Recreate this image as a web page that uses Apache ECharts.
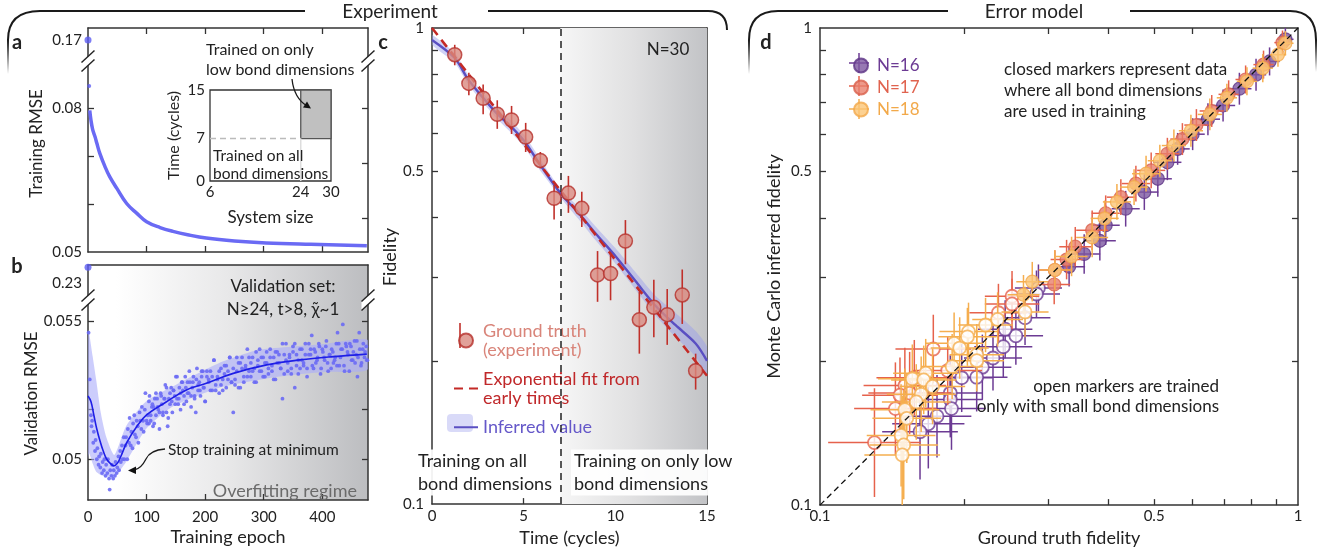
<!DOCTYPE html>
<html><head><meta charset="utf-8">
<script src="https://cdn.jsdelivr.net/npm/echarts@6/dist/echarts.min.js"></script>
<style>html,body{margin:0;padding:0;background:#fff}#c{width:1338px;height:552px}</style>
</head><body><div id="c"></div>
<script>
// ================= DATA =================
// Panel a: training RMSE
const aTopPoint = [[0, 0.17]];
const aEarlyPoint = [[2, 0.0846]];
const trainEpoch = [3, 5, 8, 12, 15, 20, 29, 37, 49, 66, 83, 100, 123, 145, 170, 202, 250, 304, 380, 476];
const trainRmse  = [0.0795, 0.0775, 0.0755, 0.0740, 0.0727, 0.0706, 0.0678, 0.0657, 0.0633, 0.0601, 0.0581, 0.0563, 0.0551, 0.0543, 0.0536, 0.0529, 0.0523, 0.0519, 0.0516, 0.0513];
const aTopLabels = [0.17];
const aLabels = [0.05, 0.08];
const aLeftTicks = [0.06, 0.07, 0.08];
const aRightTicks = [0.057, 0.0685, 0.08];
const epochTicks = [100, 200, 300, 400];
const epochLabels = [0, 100, 200, 300, 400];
// inset
const insetSize = [6, 24, 30];
const insetTime = [0, 7, 15];

// Panel b: validation RMSE
const bTopPoint = [[0, 0.24]];
const bTopLabels = [0.23];
const bLabels = [0.05, 0.055];
const bTicks = [0.05, 0.0518, 0.055];
const valLineEpoch = [0, 5, 10, 15, 20, 26, 32, 38, 44, 50, 56, 66, 83, 100, 134, 168, 202, 248, 305, 362, 419, 476];
const valLineRmse  = [0.0523, 0.0521, 0.0516, 0.0511, 0.0507, 0.0503, 0.0500, 0.04985, 0.04976, 0.04985, 0.0501, 0.0506, 0.05118, 0.05161, 0.05209, 0.05252, 0.05276, 0.05312, 0.05343, 0.05361, 0.05373, 0.05382];
const bandEpoch = [0, 2, 8, 14, 22, 31, 45, 65, 99, 144, 224, 290, 347, 410, 477];
const bandLo = [0.0500, 0.05022, 0.04985, 0.04955, 0.04943, 0.04937, 0.04937, 0.0499, 0.0511, 0.05191, 0.0526, 0.05288, 0.05306, 0.05318, 0.05325];
const bandHi = [0.0547, 0.05458, 0.05373, 0.05288, 0.05167, 0.05082, 0.05016, 0.0512, 0.0521, 0.05264, 0.0535, 0.05397, 0.05409, 0.05421, 0.05434];
const valDots = [[1,0.0546],[3,0.0529],[5,0.0516],[6,0.0512],[7,0.0514],[9,0.0506],[10,0.0510],[12,0.0503],[13,0.0507],[15,0.0500],[16,0.0504],[18,0.0498],[19,0.0501],[21,0.0497],[22,0.0502],[24,0.0495],[25,0.0499],[27,0.0496],[28,0.0500],[30,0.0494],[31,0.0498],[33,0.0495],[34,0.0500],[36,0.0493],[37,0.0489],[38,0.0496],[40,0.0494],[41,0.0498],[43,0.0493],[44,0.0496],[46,0.0494],[47,0.0499],[49,0.0495],[50,0.0497],[52,0.0501],[53,0.0496],[55,0.0503],[56,0.0499],
[58,0.0505],[59,0.0500],[61,0.0508],[62,0.0500],[64,0.0505],[65,0.0508],[67,0.0500],[68,0.0511],[70,0.0506],[71,0.0515],[73,0.0505],[74,0.0510],[76,0.0504],[77,0.0513],[79,0.0516],[80,0.0509],[82,0.0508],[83,0.0514],[85,0.0512],[86,0.0506],[88,0.0517],[89,0.0514],[91,0.0511],[92,0.0519],[94,0.0514],[95,0.0510],[97,0.0518],[98,0.0524],[100,0.0514],[102,0.0516],[104,0.0513],[105,0.0523],[107,0.0514],[109,0.0519],[111,0.0512],[112,0.0519],[114,0.0522],[116,0.0516],[118,0.0522],[120,0.0518],[122,0.0511],[124,0.0524],[126,0.0520],[128,0.0517],[130,0.0522],[132,0.0527],[134,0.0517],[136,0.0512],[138,0.0522],[140,0.0520],[142,0.0526],[144,0.0517],[146,0.0525],[148,0.0523],[150,0.0530],[152,0.0522],[154,0.0520],[156,0.0526],[158,0.0518],[160,0.0528],[162,0.0525],[164,0.0523],[166,0.0530],[168,0.0521],[170,0.0528],[172,0.0524],[174,0.0528],[176,0.0519],[178,0.0526],[180,0.0530],[182,0.0523],[184,0.0517],[186,0.0533],[188,0.0525],[190,0.0528],[192,0.0523],[194,0.0530],[196,0.0532],[198,0.0526],[200,0.0521],[203,0.0530],[206,0.0528],[209,0.0532],[212,0.0525],[215,0.0536],[218,0.0527],[221,0.0530],[224,0.0524],[227,0.0533],[230,0.0529],[233,0.0534],[236,0.0526],[239,0.0532],[242,0.0537],[245,0.0528],[248,0.0517],[251,0.0529],[254,0.0537],[257,0.0526],[260,0.0535],[263,0.0533],[266,0.0528],[269,0.0534],[272,0.0540],[275,0.0532],[278,0.0530],[281,0.0537],[284,0.0533],[287,0.0528],[290,0.0536],[293,0.0540],[296,0.0532],[299,0.0537],[302,0.0530],[305,0.0535],[308,0.0533],[311,0.0540],[314,0.0532],[317,0.0537],[320,0.0529],[323,0.0539],[326,0.0535],[329,0.0533],[332,0.0522],[335,0.0538],[338,0.0542],[341,0.0532],[344,0.0537],[347,0.0533],[350,0.0541],[353,0.0526],[356,0.0538],[359,0.0531],[362,0.0540],[365,0.0536],[368,0.0534],[371,0.0542],[374,0.0533],[377,0.0538],[380,0.0540],[382,0.0545],[385,0.0533],[388,0.0539],[391,0.0536],[394,0.0542],[397,0.0531],[400,0.0540],[403,0.0537],[406,0.0541],[409,0.0535],[412,0.0538],[415,0.0533],[418,0.0539],[421,0.0536],[424,0.0542],[426,0.0546],[429,0.0534],[432,0.0540],[435,0.0549],[438,0.0532],[441,0.0541],[444,0.0538],[447,0.0542],[450,0.0536],[453,0.0539],[456,0.0535],[459,0.0543],[460,0.0530],[463,0.0546],[466,0.0534],[469,0.0540],[472,0.0537],[475,0.0541],[477,0.0536],
[101,0.0513],[104,0.0521],[107,0.0516],[110,0.0520],[113,0.0513],[116,0.0524],[119,0.0519],[122,0.0517],[125,0.0523],[128,0.0516],[131,0.0522],[134,0.0526],[137,0.0515],[140,0.0524],[143,0.0521],[146,0.0525],[149,0.0520],[152,0.0530],[155,0.0522],[158,0.0524],[161,0.0528],[164,0.0520],[167,0.0526],[170,0.0524],[173,0.0532],[176,0.0523],[179,0.0528],[182,0.0522],[185,0.0529],[188,0.0527],[191,0.0525],[194,0.0532],[197,0.0526],[200,0.0521],[203,0.0532],[206,0.0529],[209,0.0525],[212,0.0530],[215,0.0536],[218,0.0525],[221,0.0529],[224,0.0532],[227,0.0527],[230,0.0525],[233,0.0531],[236,0.0534],[239,0.0529],[242,0.0537],[245,0.0528],[248,0.0533],[251,0.0527],[254,0.0532],[257,0.0535],[260,0.0526],[263,0.0537],[266,0.0530],[269,0.0533],[272,0.0530],[275,0.0537],[278,0.0535],[281,0.0532],[284,0.0528],[287,0.0539],[290,0.0534],[293,0.0532],[296,0.0537],[299,0.0530],[302,0.0535],[305,0.0539],[308,0.0531],[311,0.0537],[314,0.0534],[317,0.0529],[320,0.0539],[323,0.0535],[326,0.0538],[329,0.0533],[332,0.0542],[335,0.0531],[338,0.0536],[341,0.0535],[344,0.0538],[347,0.0531],[350,0.0539],[353,0.0542],[356,0.0534],[359,0.0536],[362,0.0533],[365,0.0540],[368,0.0535],[371,0.0538],[374,0.0530],[377,0.0542],[380,0.0538],[383,0.0534],[386,0.0540],[389,0.0535],[392,0.0537],[395,0.0541],[398,0.0533],[401,0.0539],[404,0.0536],[407,0.0543],[410,0.0532],[413,0.0538],[416,0.0540],[419,0.0535],[422,0.0537],[425,0.0534],[428,0.0542],[431,0.0537],[434,0.0540],[437,0.0534],[440,0.0542],[443,0.0539],[446,0.0532],[449,0.0541],[452,0.0536],[455,0.0543],[458,0.0538],[461,0.0537],[464,0.0540],[467,0.0535],[470,0.0542],[473,0.0539],[476,0.0536]];

// Panel c: fidelity vs time (N=30)
const cTime = [1.24, 2.01, 2.79, 3.56, 4.34, 5.11, 5.91, 6.66, 7.44, 8.17, 9.03, 9.74, 10.55, 11.31, 12.1, 12.83, 13.65, 14.38];
const cFid  = [0.879, 0.765, 0.712, 0.659, 0.641, 0.590, 0.527, 0.439, 0.450, 0.418, 0.303, 0.305, 0.357, 0.244, 0.259, 0.250, 0.275, 0.1905];
const cLo   = [0.835, 0.722, 0.659, 0.614, 0.599, 0.549, 0.507, 0.396, 0.409, 0.382, 0.266, 0.268, 0.319, 0.207, 0.224, 0.216, 0.239, 0.174];
const cHi   = [0.922, 0.805, 0.761, 0.705, 0.686, 0.632, 0.549, 0.468, 0.489, 0.453, 0.340, 0.337, 0.395, 0.279, 0.296, 0.283, 0.311, 0.207];
const fitTime = [0, 15];
const fitFid  = [1.0, 0.186];
const infTime = [0, 1.24, 1.97, 2.7, 3.52, 4.34, 5.07, 5.8, 6.35, 7.08, 7.99, 8.9, 10, 11.1, 12.19, 13.29, 14.38, 15];
const infFid  = [0.944, 0.865, 0.780, 0.720, 0.662, 0.619, 0.576, 0.523, 0.487, 0.446, 0.409, 0.371, 0.332, 0.294, 0.261, 0.2375, 0.2175, 0.200];
const infLo   = [0.922, 0.845, 0.762, 0.703, 0.646, 0.601, 0.560, 0.508, 0.476, 0.437, 0.397, 0.359, 0.320, 0.282, 0.249, 0.224, 0.204, 0.187];
const infHi   = [0.967, 0.886, 0.799, 0.737, 0.678, 0.637, 0.593, 0.538, 0.499, 0.455, 0.421, 0.384, 0.345, 0.307, 0.274, 0.252, 0.231, 0.214];
const cSplit = 7;
const cTimeMax = 15;
const cTimeLabels = [0, 5, 10, 15];
const cTimeTicks = [5, 10];
const fidLabels = [0.1, 0.5, 1];
const fidTicks = [0.2, 0.3, 0.4, 0.5, 0.6, 0.7, 0.8, 0.9];

// Panel d: [ground truth, inferred, x error factor, y error factor]
const closed16 = [[0.941,0.947,1.04,1.06],[0.872,0.851,1.05,1.07],[0.817,0.798,1.05,1.08],[0.754,0.746,1.06,1.08],[0.697,0.688,1.06,1.08],[0.648,0.644,1.06,1.08],[0.602,0.599,1.06,1.08],[0.560,0.558,1.06,1.08],[0.533,0.523,1.07,1.09],[0.509,0.483,1.07,1.09],[0.477,0.453,1.07,1.09],[0.436,0.418,1.07,1.09],[0.396,0.386,1.07,1.1],[0.385,0.358,1.08,1.1],[0.357,0.336,1.08,1.1],[0.332,0.316,1.08,1.1]];
const closed17 = [[0.928,0.932,1.04,1.06],[0.847,0.838,1.05,1.07],[0.777,0.780,1.05,1.07],[0.716,0.726,1.05,1.07],[0.660,0.670,1.06,1.08],[0.613,0.626,1.06,1.08],[0.573,0.585,1.06,1.08],[0.533,0.545,1.06,1.08],[0.493,0.503,1.07,1.09],[0.458,0.472,1.07,1.09],[0.426,0.442,1.07,1.09],[0.396,0.409,1.07,1.09],[0.371,0.377,1.08,1.1],[0.342,0.348,1.08,1.1],[0.328,0.327,1.08,1.1],[0.310,0.311,1.08,1.1],[0.309,0.290,1.08,1.1]];
const closed18 = [[0.941,0.929,1.04,1.06],[0.908,0.879,1.04,1.06],[0.844,0.824,1.05,1.07],[0.782,0.773,1.05,1.07],[0.710,0.714,1.05,1.07],[0.654,0.659,1.06,1.08],[0.597,0.609,1.06,1.08],[0.550,0.567,1.06,1.08],[0.514,0.527,1.06,1.08],[0.481,0.495,1.07,1.09],[0.454,0.464,1.07,1.09],[0.418,0.432,1.07,1.09],[0.394,0.399,1.07,1.09],[0.371,0.364,1.08,1.1],[0.336,0.332,1.08,1.1],[0.310,0.311,1.08,1.1],[0.278,0.294,1.08,1.1],[0.2665,0.276,1.08,1.1]];
const open16 = [[0.2864,0.2852,1.12,1.12],[0.2837,0.277,1.12,1.12],[0.2685,0.247,1.13,1.14],[0.2569,0.2264,1.14,1.15],[0.2440,0.2337,1.14,1.15],[0.2418,0.2148,1.15,1.16],[0.2301,0.2034,1.15,1.17],[0.2186,0.1946,1.15,1.17],[0.2127,0.1854,1.16,1.18],[0.1979,0.1849,1.16,1.18],[0.1873,0.1717,1.17,1.2],[0.1873,0.1664,1.17,1.2],[0.1884,0.1593,1.18,1.22],[0.1757,0.1536,1.18,1.22],[0.1685,0.148,1.19,1.24],[0.1619,0.1425,1.2,1.26]];
const open17 = [[0.2522,0.274,1.14,1.13],[0.2522,0.264,1.14,1.13],[0.2362,0.253,1.15,1.15],[0.185,0.1914,1.18,1.18],[0.1726,0.2124,1.2,1.18],[0.1575,0.1849,1.2,1.2],[0.1505,0.178,1.22,1.2],[0.154,0.1717,1.22,1.22],[0.147,0.170,1.2,1.2],[0.1438,0.1593,1.22,1.25],[0.130,0.1352,1.25,1.3]];
const open18 = [[0.2685,0.254,1.12,1.13],[0.2353,0.245,1.13,1.14],[0.222,0.2385,1.14,1.14],[0.2045,0.231,1.15,1.15],[0.2034,0.2253,1.15,1.15],[0.1908,0.2183,1.15,1.16],[0.196,0.2134,1.15,1.16],[0.2128,0.2066,1.14,1.16],[0.2128,0.2008,1.14,1.16],[0.189,0.1952,1.16,1.17],[0.1664,0.189,1.17,1.18],[0.156,0.184,1.18,1.18],[0.1648,0.183,1.17,1.18],[0.172,0.1773,1.17,1.2],[0.1628,0.1707,1.18,1.2],[0.159,0.1645,1.18,1.2],[0.1505,0.1585,1.18,1.22],[0.1519,0.152,1.18,1.24],[0.1478,0.140,1.18,1.28],[0.1497,0.1337,1.18,1.3],[0.1486,0.1274,1.2,1.33]];
const diag = [[0.1, 0.1], [1, 1]];

// ================= HELPERS =================
const FONT = 'Lato, "DejaVu Sans", sans-serif';
const AX = '#333';
const axLine = {show: true, onZero: false, lineStyle: {color: AX, width: 1.5}};
const noTick = {show: false};
const noLabel = {show: false};
function ticks(vals) { return {show: true, inside: true, length: 6, customValues: vals, lineStyle: {color: AX, width: 1.3}}; }
function labels(vals, margin) { return {show: true, customValues: vals, fontSize: 15, color: '#222', fontFamily: FONT, margin: margin}; }
function nm(size, shift) { return {fontSize: size || 17, color: '#222', fontFamily: FONT, padding: [0, 0, 0, shift || 0]}; }
function ax(o) { return Object.assign({type: 'value', splitLine: {show: false}, axisLine: axLine, axisTick: noTick, axisLabel: noLabel}, o); }

function T(x, y, text, o) {
  o = o || {};
  return {type: 'text', x: x, y: y, z: o.z || 100, rotation: o.rot || 0,
    style: {text: text, fontFamily: FONT, fontSize: o.size || 17, fontWeight: o.weight || 'normal',
      fill: o.color || '#222', align: o.align || 'left', textAlign: o.align || 'left',
      verticalAlign: 'middle', textVerticalAlign: 'middle', lineHeight: o.lh,
      backgroundColor: o.bg, padding: o.pad}};
}
function L(x1, y1, x2, y2, stroke, w, z) {
  return {type: 'line', z: z || 50, shape: {x1: x1, y1: y1, x2: x2, y2: y2}, style: {stroke: stroke || '#1a1a1a', lineWidth: w || 2}};
}
function Q(x1, y1, cx, cy, x2, y2, w) {
  return {type: 'bezierCurve', z: 50, shape: {x1: x1, y1: y1, cpx1: cx, cpy1: cy, x2: x2, y2: y2}, style: {stroke: '#1a1a1a', lineWidth: w || 2, fill: null}};
}
function fadeLine(x, y1, y2) {
  const g = new echarts.graphic.LinearGradient(x, y1, x, y2, [
    {offset: 0, color: '#1a1a1a'}, {offset: 1, color: 'rgba(26,26,26,0)'}], true);
  return L(x, y1, x, y2, g, 2);
}
function brk(cx, cy) {
  return {type: 'group', z: 60, children: [
    {type: 'polygon', z: 60, shape: {points: [[cx - 6.5, cy + 10.5], [cx + 6.5, cy - 1.5], [cx + 6.5, cy - 10.5], [cx - 6.5, cy + 1.5]]}, style: {fill: '#fff'}},
    {type: 'line', z: 61, shape: {x1: cx - 6.5, y1: cy + 10.5, x2: cx + 6.5, y2: cy - 1.5}, style: {stroke: '#222', lineWidth: 1.4}},
    {type: 'line', z: 61, shape: {x1: cx - 6.5, y1: cy + 1.5, x2: cx + 6.5, y2: cy - 10.5}, style: {stroke: '#222', lineWidth: 1.4}}
  ]};
}
function bandRender(xs, lo, hi, fill) {
  return function (params, api) {
    if (params.dataIndex !== 0) return;
    const pts = [];
    for (let i = 0; i < xs.length; i++) pts.push(api.coord([xs[i], hi[i]]));
    for (let i = xs.length - 1; i >= 0; i--) pts.push(api.coord([xs[i], lo[i]]));
    return {type: 'polygon', shape: {points: pts, smooth: 0.2}, style: {fill: fill}};
  };
}
function crossRender(color) {
  return function (params, api) {
    const x = api.value(0), y = api.value(1), ex = api.value(2), ey = api.value(3);
    const a = api.coord([x / ex, y]), b = api.coord([x * ex, y]);
    const c = api.coord([x, y / ey]), d = api.coord([x, y * ey]);
    return {type: 'group', children: [
      {type: 'line', shape: {x1: a[0], y1: a[1], x2: b[0], y2: b[1]}, style: {stroke: color, lineWidth: 1.5}},
      {type: 'line', shape: {x1: c[0], y1: c[1], x2: d[0], y2: d[1]}, style: {stroke: color, lineWidth: 1.5}}
    ]};
  };
}
function vbarRender(color) {
  return function (params, api) {
    const t = api.value(0), lo = api.value(2), hi = api.value(3);
    const a = api.coord([t, lo]), b = api.coord([t, hi]);
    return {type: 'line', shape: {x1: a[0], y1: a[1], x2: b[0], y2: b[1]}, style: {stroke: color, lineWidth: 1.6}};
  };
}
const pairs = (xs, ys) => xs.map((x, i) => [x, ys[i]]);
const xy = arr => arr.map(p => [p[0], p[1]]);

const gradB = new echarts.graphic.LinearGradient(0, 0, 1, 0, [
  {offset: 0, color: '#ffffff'}, {offset: 0.1, color: '#ffffff'}, {offset: 0.5, color: '#e8e8e9'}, {offset: 1, color: '#bcbdc0'}]);
const gradC = new echarts.graphic.LinearGradient(0, 0, 1, 0, [
  {offset: 0, color: '#f6f6f6'}, {offset: 0.5, color: '#e0e0e1'}, {offset: 1, color: '#c2c3c6'}]);

const COL = {
  n16: {bar: '#6c3b94', fill: '#7d58a0', edge: '#5e3586', text: '#6c3b94'},
  n17: {bar: '#e6624c', fill: '#e8806d', edge: '#d9604c', text: '#e0634f'},
  n18: {bar: '#f5ae4e', fill: '#fbc577', edge: '#f3a94b', text: '#f2a94a'}
};

// ================= OPTION =================
const grid = [
  {left: 88, top: 28, width: 280, height: 33},                 // 0 a top
  {left: 88, top: 61, width: 280, height: 191},                // 1 a main
  {left: 210, top: 90, width: 121, height: 91, show: true, borderColor: AX, borderWidth: 1.3, backgroundColor: '#fff'}, // 2 inset
  {left: 88, top: 265, width: 280, height: 36, show: true, borderWidth: 0, backgroundColor: gradB}, // 3 b top
  {left: 88, top: 301, width: 280, height: 199, show: true, borderWidth: 0, backgroundColor: gradB}, // 4 b main
  {left: 432, top: 28, width: 275, height: 481},               // 5 c
  {left: 820, top: 28, width: 478, height: 481}                // 6 d
];

const xAxis = [
  ax({gridIndex: 0, position: 'top', min: 0, max: 478, axisTick: ticks(epochTicks)}),
  ax({gridIndex: 1, position: 'bottom', min: 0, max: 478, axisTick: ticks(epochTicks)}),
  ax({gridIndex: 2, position: 'bottom', min: 6, max: 30, axisLine: {show: false}, axisLabel: labels(insetSize, 4),
      name: 'System size', nameLocation: 'middle', nameGap: 28, nameTextStyle: nm(17)}),
  ax({gridIndex: 3, position: 'top', min: 0, max: 478}),
  ax({gridIndex: 4, position: 'bottom', min: 0, max: 478, axisTick: ticks(epochTicks), axisLabel: labels(epochLabels, 10),
      name: 'Training epoch', nameLocation: 'middle', nameGap: 28, nameTextStyle: nm(18)}),
  ax({gridIndex: 5, position: 'bottom', min: 0, max: cTimeMax, axisTick: ticks(cTimeTicks), axisLabel: labels(cTimeLabels, 5),
      name: 'Time (cycles)', nameLocation: 'middle', nameGap: 19, nameTextStyle: nm(18)}),
  ax({gridIndex: 5, position: 'top', min: 0, max: cTimeMax, axisTick: ticks(cTimeTicks)}),
  ax({gridIndex: 6, type: 'log', logBase: 10, position: 'bottom', min: 0.1, max: 1, axisTick: ticks(fidTicks), axisLabel: labels(fidLabels, 4),
      name: 'Ground truth fidelity', nameLocation: 'middle', nameGap: 19, nameTextStyle: nm(18)}),
  ax({gridIndex: 6, type: 'log', logBase: 10, position: 'top', min: 0.1, max: 1, axisTick: ticks(fidTicks)})
];

const yAxis = [
  ax({gridIndex: 0, position: 'left', min: 0.1656, max: 0.1725, axisLabel: labels(aTopLabels, 6)}),
  ax({gridIndex: 0, position: 'right', min: 0.1656, max: 0.1725}),
  ax({gridIndex: 1, position: 'left', min: 0.05, max: 0.0898, axisTick: ticks(aLeftTicks), axisLabel: labels(aLabels, 6),
      name: 'Training RMSE', nameLocation: 'middle', nameGap: 43, nameTextStyle: nm(17, 26)}),
  ax({gridIndex: 1, position: 'right', min: 0.05, max: 0.0898, axisTick: ticks(aRightTicks)}),
  ax({gridIndex: 2, position: 'left', min: 0, max: 15, axisLine: {show: false}, axisLabel: labels(insetTime, 5),
      name: 'Time (cycles)', nameLocation: 'middle', nameGap: 28, nameTextStyle: nm(16)}),
  ax({gridIndex: 3, position: 'left', min: 0.2189, max: 0.2414, axisLabel: labels(bTopLabels, 6)}),
  ax({gridIndex: 3, position: 'right', min: 0.2189, max: 0.2414}),
  ax({gridIndex: 4, position: 'left', min: 0.04852, max: 0.05575, axisTick: ticks(bTicks), axisLabel: labels(bLabels, 6),
      name: 'Validation RMSE', nameLocation: 'middle', nameGap: 36, nameTextStyle: nm(17, 14)}),
  ax({gridIndex: 4, position: 'right', min: 0.04852, max: 0.05575, axisTick: ticks(bTicks)}),
  ax({gridIndex: 5, type: 'log', logBase: 10, position: 'left', min: 0.1, max: 1, axisTick: ticks(fidTicks), axisLabel: labels(fidLabels, 8),
      name: 'Fidelity', nameLocation: 'middle', nameGap: 28, nameTextStyle: nm(18, 18)}),
  ax({gridIndex: 5, type: 'log', logBase: 10, position: 'right', min: 0.1, max: 1, axisTick: ticks(fidTicks)}),
  ax({gridIndex: 6, type: 'log', logBase: 10, position: 'left', min: 0.1, max: 1, axisTick: ticks(fidTicks), axisLabel: labels(fidLabels, 8),
      name: 'Monte Carlo inferred fidelity', nameLocation: 'middle', nameGap: 37, nameTextStyle: nm(18)}),
  ax({gridIndex: 6, type: 'log', logBase: 10, position: 'right', min: 0.1, max: 1, axisTick: ticks(fidTicks)})
];

const series = [
  // ---- panel a ----
  {type: 'scatter', xAxisIndex: 0, yAxisIndex: 0, data: aTopPoint, symbolSize: 7, itemStyle: {color: '#5c5cf2'}, clip: false, z: 5},
  {type: 'scatter', xAxisIndex: 1, yAxisIndex: 2, data: aEarlyPoint, symbolSize: 4, itemStyle: {color: '#5c5cf2'}, z: 5},
  {type: 'line', xAxisIndex: 1, yAxisIndex: 2, data: pairs(trainEpoch, trainRmse), smooth: 0.4, symbol: 'none',
   lineStyle: {color: '#6a6af4', width: 3.5}, z: 4},
  // inset
  {type: 'custom', xAxisIndex: 2, yAxisIndex: 4, data: [[insetSize[1], insetTime[1], insetSize[2], insetTime[2]]], z: 3,
   renderItem: function (params, api) {
     const p1 = api.coord([api.value(0), api.value(3)]), p2 = api.coord([api.value(2), api.value(1)]);
     return {type: 'rect', shape: {x: p1[0], y: p1[1], width: p2[0] - p1[0], height: p2[1] - p1[1]},
       style: {fill: '#c0c0c0', stroke: '#555', lineWidth: 1.3}};
   }},
  {type: 'line', xAxisIndex: 2, yAxisIndex: 4, data: [[insetSize[0], insetTime[1]], [insetSize[1], insetTime[1]]], symbol: 'none',
   lineStyle: {color: '#bbbbbb', width: 1.5, type: [6, 4]}, z: 3},
  {type: 'line', xAxisIndex: 2, yAxisIndex: 4, data: [[insetSize[1], insetTime[0]], [insetSize[1], insetTime[1]]], symbol: 'none',
   lineStyle: {color: '#dddddd', width: 1.5}, z: 3},
  // ---- panel b ----
  {type: 'scatter', xAxisIndex: 3, yAxisIndex: 5, data: bTopPoint, symbolSize: 7, itemStyle: {color: '#5c5cf2'}, clip: false, z: 5},
  {type: 'custom', xAxisIndex: 4, yAxisIndex: 7, data: [[bandEpoch[0], bandLo[0]]], encode: {x: 0, y: 1}, clip: true, z: 2,
   renderItem: bandRender(bandEpoch, bandLo, bandHi, 'rgba(170,172,250,0.6)')},
  {type: 'scatter', xAxisIndex: 4, yAxisIndex: 7, data: valDots, symbolSize: 3.8, itemStyle: {color: '#6a6af4', opacity: 0.9}, z: 3},
  {type: 'line', xAxisIndex: 4, yAxisIndex: 7, data: pairs(valLineEpoch, valLineRmse), smooth: 0.4, symbol: 'none',
   lineStyle: {color: '#1e1ee6', width: 1.6}, z: 4},
  // ---- panel c ----
  {type: 'line', name: 'shade', xAxisIndex: 5, yAxisIndex: 9, data: [], z: 0, silent: true,
   markArea: {silent: true, itemStyle: {color: gradC}, data: [[{xAxis: cSplit}, {xAxis: cTimeMax}]]}},
  {type: 'custom', xAxisIndex: 5, yAxisIndex: 9, data: [[infTime[0], infLo[0]]], encode: {x: 0, y: 1}, clip: true, z: 1,
   renderItem: bandRender(infTime, infLo, infHi, 'rgba(150,155,235,0.45)')},
  {type: 'line', name: 'inf', xAxisIndex: 5, yAxisIndex: 9, data: pairs(infTime, infFid), smooth: 0.3, symbol: 'none',
   lineStyle: {color: '#5a4fc2', width: 2.4}, itemStyle: {color: '#5a4fc2'}, z: 2},
  {type: 'line', name: 'fit', xAxisIndex: 5, yAxisIndex: 9, data: pairs(fitTime, fitFid), symbol: 'none',
   lineStyle: {color: '#c42a26', width: 2.6, type: [9, 6]}, itemStyle: {color: '#c42a26'}, z: 3},
  {type: 'line', name: 'split', xAxisIndex: 5, yAxisIndex: 9, data: [], z: 6, silent: true,
   markLine: {silent: true, symbol: ['none', 'none'], label: {show: false}, lineStyle: {color: '#222', type: [7, 5], width: 1.5},
     data: [{xAxis: cSplit}]}},
  {type: 'custom', xAxisIndex: 5, yAxisIndex: 9, data: cTime.map((t, i) => [t, cFid[i], cLo[i], cHi[i]]), encode: {x: 0, y: 1}, z: 4,
   renderItem: vbarRender('#c0302a')},
  {type: 'scatter', name: 'gt', xAxisIndex: 5, yAxisIndex: 9, data: pairs(cTime, cFid), symbolSize: 14,
   itemStyle: {color: '#d98a80', borderColor: '#b5302a', borderWidth: 1.5}, z: 5},
];

// ---- panel d ----
[['n16', 'N=16', closed16, open16], ['n17', 'N=17', closed17, open17], ['n18', 'N=18', closed18, open18]].forEach(function (s, k) {
  const c = COL[s[0]];
  const zb = 3 + k * 3;
  series.push({type: 'custom', name: s[1] + ' bars', xAxisIndex: 7, yAxisIndex: 11, data: s[2].concat(s[3]), encode: {x: 0, y: 1},
    clip: true, z: zb, renderItem: crossRender(c.bar)});
  series.push({type: 'scatter', name: s[1], xAxisIndex: 7, yAxisIndex: 11, data: xy(s[2]), symbolSize: 13,
    itemStyle: {color: c.fill, borderColor: c.edge, borderWidth: 1.2}, z: zb + 1});
  series.push({type: 'scatter', name: s[1] + ' open', xAxisIndex: 7, yAxisIndex: 11, data: xy(s[3]), symbolSize: 13,
    itemStyle: {color: '#ffffff', borderColor: c.bar, borderWidth: 1.8}, z: zb + 2});
});
series.push({type: 'line', xAxisIndex: 7, yAxisIndex: 11, data: diag, symbol: 'none',
  lineStyle: {color: '#111', width: 1.3, type: [6, 4]}, z: 20});

const cLegendText = {gt: 'Ground truth\n(experiment)', fit: 'Exponential fit from\nearly times', inf: 'Inferred value'};

const legend = [
  {left: 448, top: 317, orient: 'vertical', itemGap: 11, itemWidth: 24, itemHeight: 14, selectedMode: false,
   data: [{name: 'gt', icon: 'circle', textStyle: {color: '#d9857a'}},
          {name: 'fit', itemStyle: {opacity: 0}, textStyle: {color: '#c0282a'}},
          {name: 'inf', itemStyle: {opacity: 0}, textStyle: {color: '#6558c9'}}],
   formatter: function (n) { return cLegendText[n]; },
   textStyle: {fontSize: 18, lineHeight: 18.5, fontFamily: FONT}},
  {left: 848, top: 52, orient: 'vertical', itemGap: 5, itemWidth: 22, itemHeight: 14, selectedMode: false,
   data: [{name: 'N=16', icon: 'circle', textStyle: {color: COL.n16.text}}, {name: 'N=17', icon: 'circle', textStyle: {color: COL.n17.text}},
          {name: 'N=18', icon: 'circle', textStyle: {color: COL.n18.text}}],
   textStyle: {fontSize: 17, fontFamily: FONT}}
];

const graphic = [
  // headers
  T(390, 12, 'Experiment', {size: 19, align: 'center'}),
  T(1034, 12, 'Error model', {size: 19, align: 'center'}),
  L(40, 11, 305, 11), Q(40, 11, 8, 11, 8, 40), fadeLine(8, 40, 74),
  L(488, 11, 708, 11), Q(708, 11, 727, 11, 727, 30),
  L(778, 11, 948, 11), Q(778, 11, 749, 11, 749, 40), fadeLine(749, 40, 74),
  L(1130, 11, 1290, 11), Q(1290, 11, 1316, 11, 1316, 40), fadeLine(1316, 40, 72),
  // panel letters
  T(17, 43, 'a', {size: 20, weight: 'bold', align: 'center'}),
  T(17, 267, 'b', {size: 20, weight: 'bold', align: 'center'}),
  T(383, 43, 'c', {size: 20, weight: 'bold', align: 'center'}),
  T(766, 43, 'd', {size: 20, weight: 'bold', align: 'center'}),
  // axis breaks
  brk(88, 61), brk(368, 61), brk(88, 300), brk(368, 300),
  // panel a annotations
  T(206, 60, 'Trained on only\nlow bond dimensions', {size: 16, lh: 20}),
  T(213, 165, 'Trained on all\nbond dimensions', {size: 15.5, lh: 18.5, z: 110}),
  Q(292, 79, 294, 98, 307, 106, 1.3),
  {type: 'polygon', z: 100, shape: {points: [[311, 108.5], [303, 107.5], [307, 101.5]]}, style: {fill: '#111'}},
  // panel b annotations
  T(283, 287, 'Validation set:', {size: 17, align: 'center'}),
  T(283, 310, 'N\u226524, t>8, \u03C7\u0303~1', {size: 17, align: 'center'}),
  T(168, 450, 'Stop training at minimum', {size: 15.5}),
  T(357, 491, 'Overfitting regime', {size: 18, align: 'right', color: '#6b6b6b'}),
  Q(165, 449, 150, 450, 146, 459, 1.3), Q(146, 459, 141, 469, 134, 470, 1.3),
  {type: 'polygon', z: 100, shape: {points: [[128, 470.5], [136, 466.5], [136, 474]]}, style: {fill: '#111'}},
  // panel c annotations
  T(668, 50, 'N=30', {size: 17, align: 'center'}),
  {type: 'rect', z: 3, shape: {x: 447, y: 414, width: 26, height: 18, r: 4}, style: {fill: 'rgba(170,172,240,0.45)'}},
  L(460, 323, 460, 348, '#c0302a', 1.6, 3),
  T(416, 472.5, 'Training on all\nbond dimensions', {size: 18, lh: 23, bg: 'rgba(255,255,255,0.92)', pad: [0, 2, 0, 2]}),
  T(571, 472.5, 'Training on only low\nbond dimensions', {size: 18, lh: 23, bg: 'rgba(255,255,255,0.92)', pad: [0, 4, 0, 3]}),
  // panel d legend error crosses
  L(849, 63, 869, 63, COL.n16.bar, 1.5, 3), L(859, 53, 859, 73, COL.n16.bar, 1.5, 3),
  L(849, 86, 869, 86, COL.n17.bar, 1.5, 3), L(859, 76, 859, 96, COL.n17.bar, 1.5, 3),
  L(849, 109, 869, 109, COL.n18.bar, 1.5, 3), L(859, 99, 859, 119, COL.n18.bar, 1.5, 3),
  // panel d annotations
  T(1004, 91, 'closed markers represent data\nwhere all bond dimensions\nare used in training', {size: 17, lh: 21}),
  T(1219, 397, 'open markers are trained\nonly with small bond dimensions', {size: 17, lh: 20, align: 'right'})
];

const chart = echarts.init(document.getElementById('c'), null, {renderer: 'canvas'});
chart.setOption({
  animation: false,
  backgroundColor: '#fff',
  textStyle: {fontFamily: FONT},
  grid: grid, xAxis: xAxis, yAxis: yAxis, series: series, legend: legend, graphic: graphic
});
</script></body></html>
